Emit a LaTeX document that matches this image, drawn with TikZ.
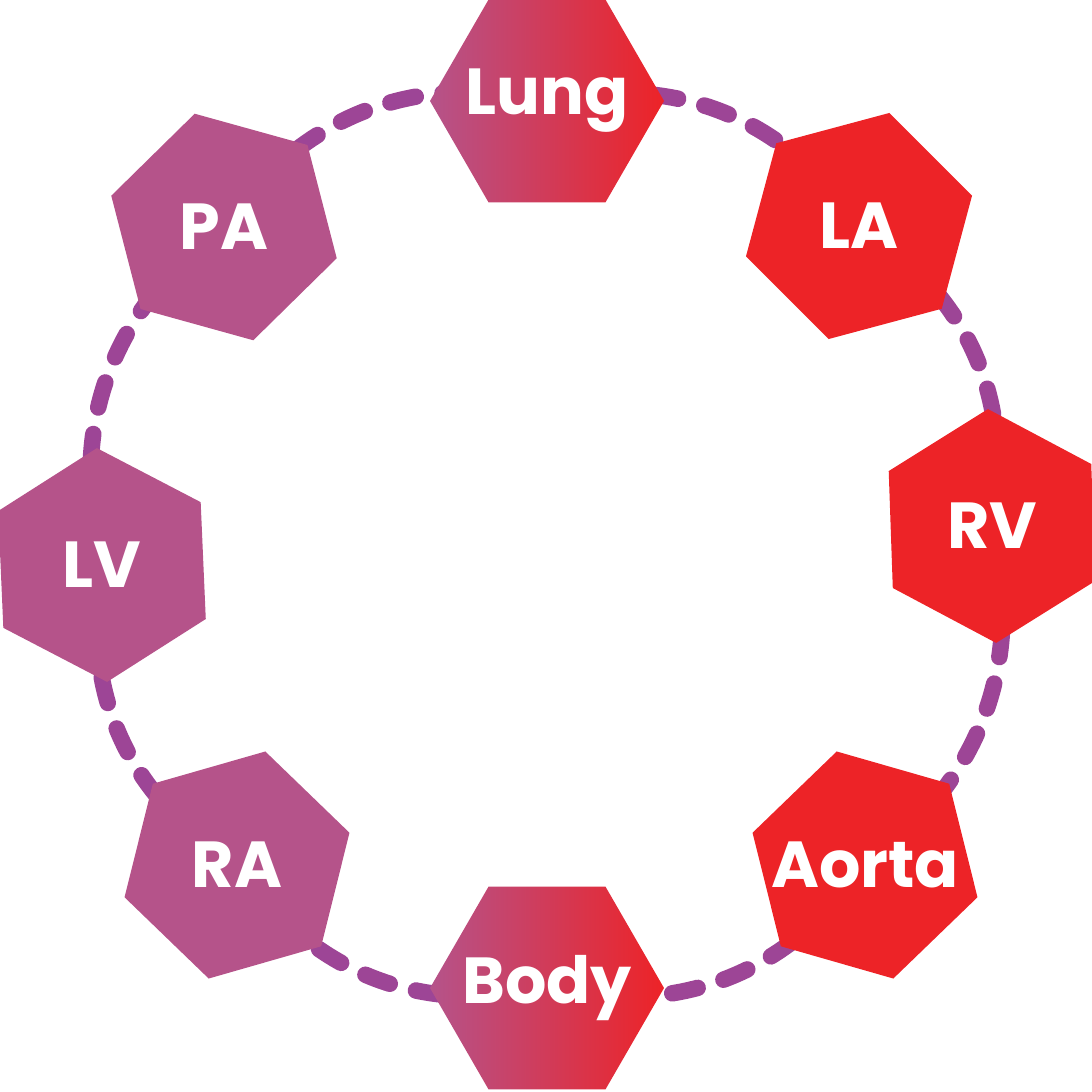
\documentclass[tikz,border=0pt]{standalone}
\usepackage{fontspec}
\setmainfont{Poppins}
\usetikzlibrary{backgrounds}
\definecolor{hexpurp}{RGB}{181,83,138}
\definecolor{hexred}{RGB}{237,35,39}
\definecolor{dashcol}{RGB}{157,69,150}
\newcommand\hexshape[4]{%
  \path[#4,shift={(#1,#2)}] (-#3:117) -- (-#3-60:117) -- (-#3-120:117)
    -- (-#3-180:117) -- (-#3-240:117) -- (-#3-300:117) -- cycle;}
\begin{document}
\begin{tikzpicture}[x=0.01cm,y=-0.01cm,
  lbl/.style={inner sep=0pt, text=white,
    font=\fontsize{18.5}{18.5}\selectfont\bfseries},
  purphex/.style={fill=hexpurp},
  redhex/.style={fill=hexred},
  mixhex/.style={left color=hexpurp, right color=hexred},
  link/.style={draw=dashcol, line width=0.165cm, line cap=round,
    dash pattern=on 0.26cm off 0.27cm}]
\useasboundingbox (0,0) rectangle (1092,1092);
% hexagon bodies
\hexshape{547}{101}{0}{mixhex}
\hexshape{859}{226}{15}{redhex}
\hexshape{992}{526}{32}{redhex}
\hexshape{865}{865}{44}{redhex}
\hexshape{547}{988}{0}{mixhex}
\hexshape{237}{865}{16}{purphex}
\hexshape{102}{565}{32.5}{purphex}
\hexshape{224}{227}{44.5}{purphex}
% labels (named nodes at hexagon centres)
\node[lbl] (lung)  at (547,101) {Lung};
\node[lbl] (la)    at (859,226) {LA};
\node[lbl] (rv)    at (992,526) {RV};
\node[lbl] (aorta) at (865,865) {Aorta};
\node[lbl] (body)  at (547,988) {Body};
\node[lbl] (ra)    at (237,865) {RA};
\node[lbl] (lv)    at (102,565) {LV};
\node[lbl] (pa)    at (224,227) {PA};
\begin{scope}[on background layer]
\draw[link] (lung.center)  to[bend left=34] (la.center);
\draw[link] (la.center)    to[bend left=34] (rv.center);
\draw[link] (rv.center)    to[bend left=34] (aorta.center);
\draw[link] (aorta.center) to[bend left=34] (body.center);
\draw[link] (body.center)  to[bend left=34] (ra.center);
\draw[link] (ra.center)    to[bend left=34] (lv.center);
\draw[link] (lv.center)    to[bend left=34] (pa.center);
\draw[link] (pa.center)    to[bend left=34] (lung.center);
\end{scope}
\end{tikzpicture}
\end{document}
